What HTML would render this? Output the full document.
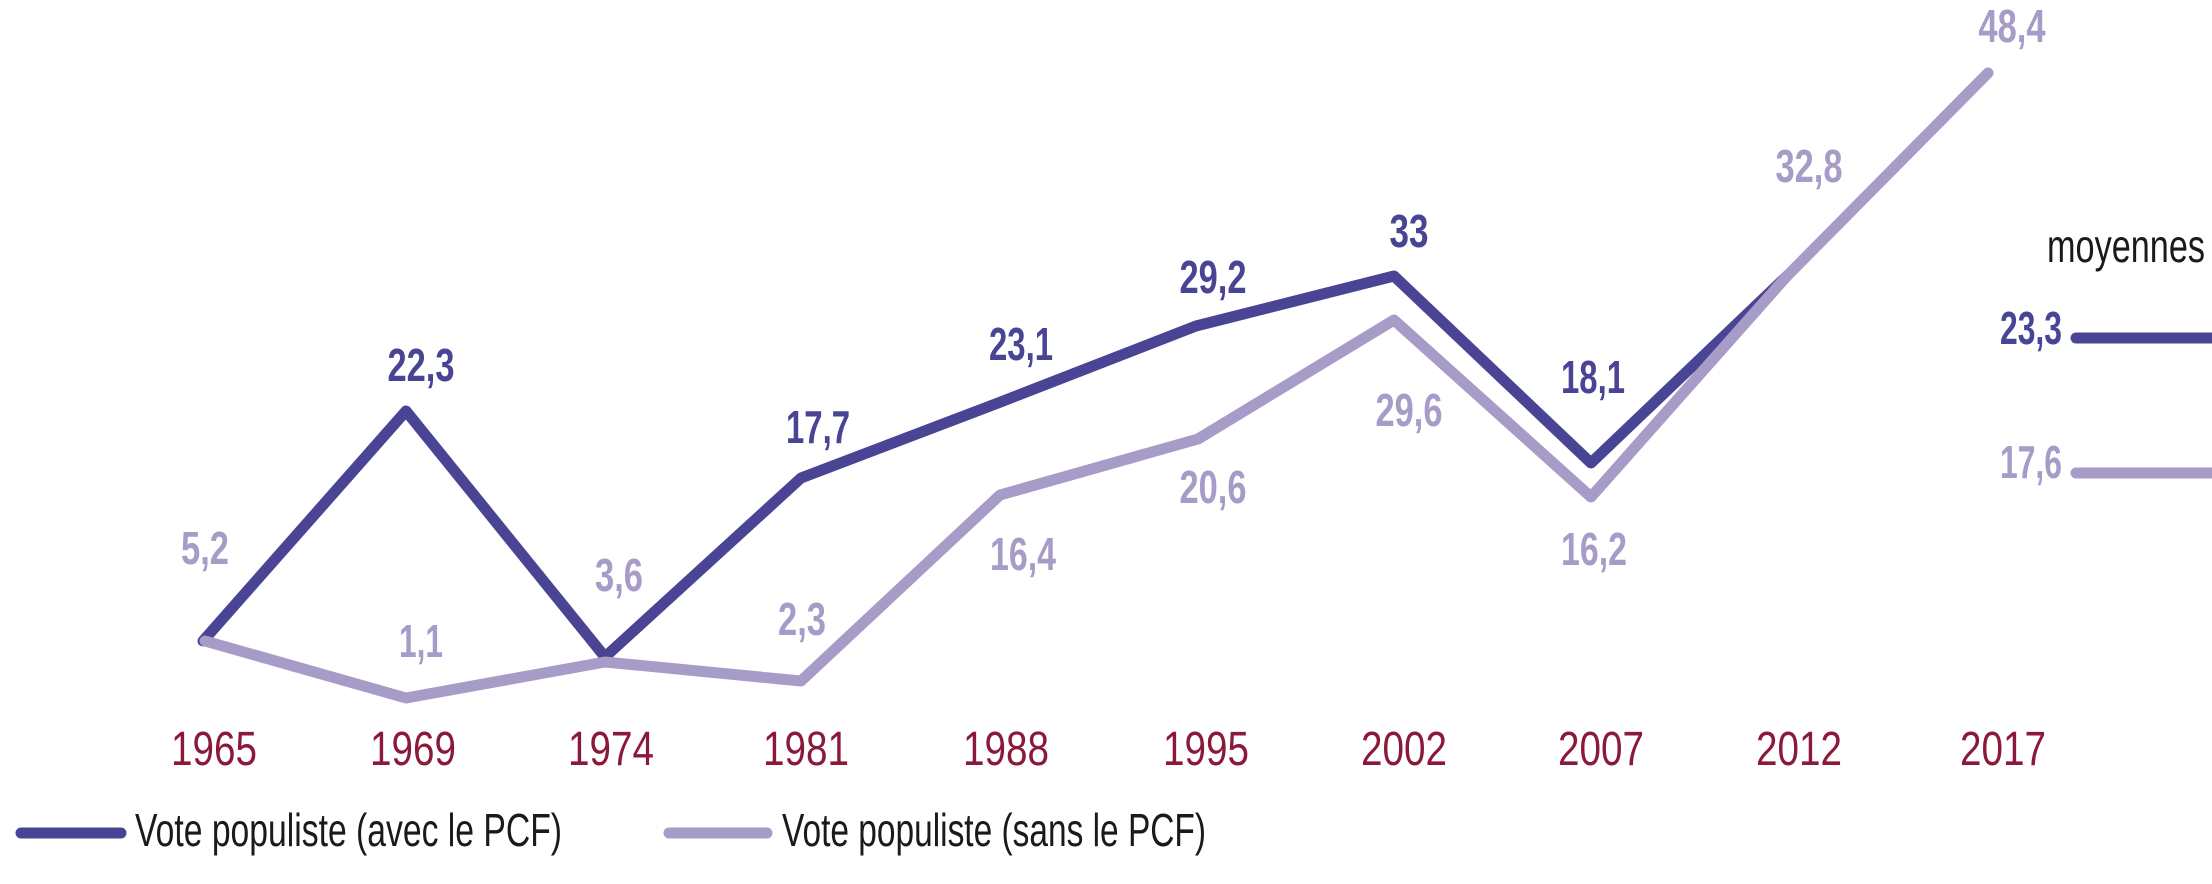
<!DOCTYPE html>
<html><head><meta charset="utf-8"><style>
html,body{margin:0;padding:0;background:#fff;}
svg{display:block;}
.b{font-family:"Liberation Sans",sans-serif;font-weight:bold;font-size:46px;}
.d{fill:#4a4494;} .l{fill:#a79bc8;}
.y{font-family:"Liberation Sans",sans-serif;font-size:48px;fill:#8b1a3a;}
.t{font-family:"Liberation Sans",sans-serif;font-size:46px;fill:#1a1a1a;}
</style></head><body>
<svg width="2212" height="884" viewBox="0 0 2212 884" xmlns="http://www.w3.org/2000/svg">
<g fill="none" stroke-linecap="round" stroke-linejoin="round" stroke-width="11">
<polyline stroke="#4a4494" points="203,641 406,411 605,657 801,478 998,403 1196,326 1394,276 1591,463 1787,276"/>
<polyline stroke="#a79bc8" points="205,641 406,698 605,662 801,681 1000,495 1198,439 1394,320 1591,497 1787,276 1988,73"/>
<line stroke="#4a4494" x1="2076" y1="338" x2="2230" y2="338"/>
<line stroke="#a79bc8" x1="2076" y1="473" x2="2230" y2="473"/>
<line stroke="#4a4494" x1="21" y1="833" x2="121" y2="833"/>
<line stroke="#a79bc8" x1="669" y1="833" x2="767" y2="833"/>
</g>
<g class="b" text-anchor="middle">
<text class="l" x="205" y="564" textLength="48" lengthAdjust="spacingAndGlyphs">5,2</text>
<text class="d" x="421" y="381" textLength="67" lengthAdjust="spacingAndGlyphs">22,3</text>
<text class="l" x="619" y="591" textLength="48" lengthAdjust="spacingAndGlyphs">3,6</text>
<text class="l" x="421" y="657" textLength="44" lengthAdjust="spacingAndGlyphs">1,1</text>
<text class="d" x="818" y="443" textLength="64" lengthAdjust="spacingAndGlyphs">17,7</text>
<text class="l" x="802" y="635" textLength="48" lengthAdjust="spacingAndGlyphs">2,3</text>
<text class="d" x="1021" y="360" textLength="64" lengthAdjust="spacingAndGlyphs">23,1</text>
<text class="l" x="1023" y="570" textLength="66" lengthAdjust="spacingAndGlyphs">16,4</text>
<text class="d" x="1213" y="293" textLength="67" lengthAdjust="spacingAndGlyphs">29,2</text>
<text class="l" x="1213" y="503" textLength="67" lengthAdjust="spacingAndGlyphs">20,6</text>
<text class="d" x="1409" y="247" textLength="39" lengthAdjust="spacingAndGlyphs">33</text>
<text class="l" x="1409" y="426" textLength="67" lengthAdjust="spacingAndGlyphs">29,6</text>
<text class="d" x="1593" y="393" textLength="64" lengthAdjust="spacingAndGlyphs">18,1</text>
<text class="l" x="1594" y="565" textLength="66" lengthAdjust="spacingAndGlyphs">16,2</text>
<text class="l" x="1809" y="182" textLength="67" lengthAdjust="spacingAndGlyphs">32,8</text>
<text class="l" x="2012" y="42" textLength="67" lengthAdjust="spacingAndGlyphs">48,4</text>
</g>
<g class="b" text-anchor="end">
<text class="d" x="2062" y="344" textLength="62" lengthAdjust="spacingAndGlyphs">23,3</text>
<text class="l" x="2062" y="478" textLength="62" lengthAdjust="spacingAndGlyphs">17,6</text>
</g>
<g class="y" text-anchor="middle">
<text x="214" y="765" textLength="86" lengthAdjust="spacingAndGlyphs">1965</text>
<text x="413" y="765" textLength="86" lengthAdjust="spacingAndGlyphs">1969</text>
<text x="611" y="765" textLength="86" lengthAdjust="spacingAndGlyphs">1974</text>
<text x="806" y="765" textLength="86" lengthAdjust="spacingAndGlyphs">1981</text>
<text x="1006" y="765" textLength="86" lengthAdjust="spacingAndGlyphs">1988</text>
<text x="1206" y="765" textLength="86" lengthAdjust="spacingAndGlyphs">1995</text>
<text x="1404" y="765" textLength="86" lengthAdjust="spacingAndGlyphs">2002</text>
<text x="1601" y="765" textLength="86" lengthAdjust="spacingAndGlyphs">2007</text>
<text x="1799" y="765" textLength="86" lengthAdjust="spacingAndGlyphs">2012</text>
<text x="2003" y="765" textLength="86" lengthAdjust="spacingAndGlyphs">2017</text>
</g>
<text class="t" x="2047" y="262" textLength="158" lengthAdjust="spacingAndGlyphs">moyennes</text>
<text class="t" x="135" y="846" textLength="427" lengthAdjust="spacingAndGlyphs">Vote populiste (avec le PCF)</text>
<text class="t" x="782" y="846" textLength="424" lengthAdjust="spacingAndGlyphs">Vote populiste (sans le PCF)</text>
</svg>
</body></html>
